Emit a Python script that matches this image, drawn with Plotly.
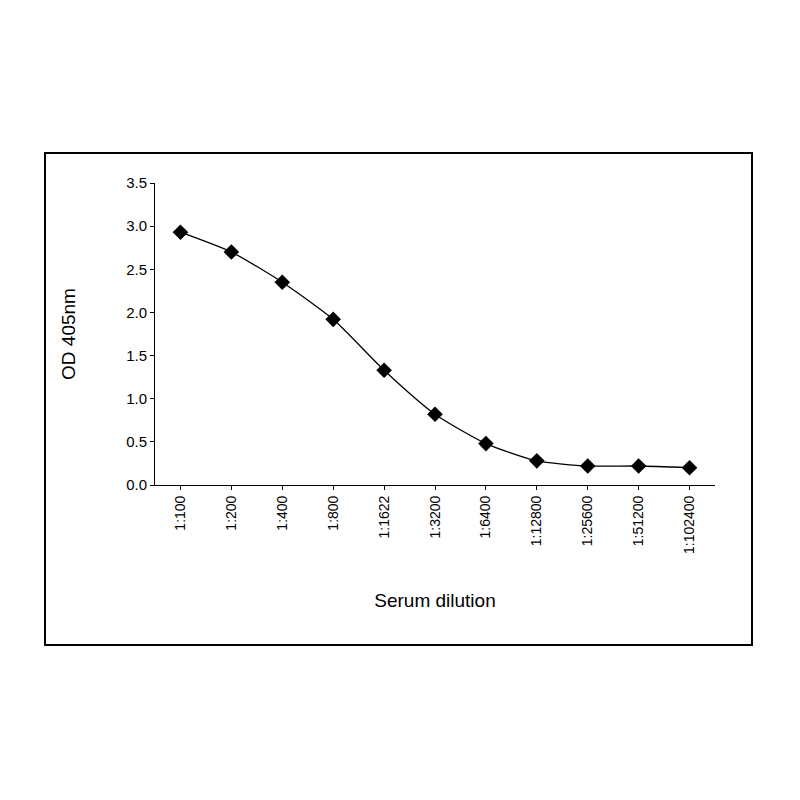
import plotly.graph_objects as go

dilutions = ["1:100","1:200","1:400","1:800","1:1622","1:3200","1:6400","1:12800","1:25600","1:51200","1:102400"]
od405 = [2.93, 2.70, 2.35, 1.92, 1.33, 0.82, 0.48, 0.28, 0.22, 0.22, 0.20]

L, R, T, B = 147, 93, 175, 323
W = 800 - L - R
H = 800 - T - B

fig = go.Figure(go.Scatter(
    x=list(range(len(dilutions))), y=od405, mode="lines+markers",
    line=dict(color="black", width=1.3, shape="spline", smoothing=0.6),
    marker=dict(symbol="diamond", size=12, color="black"),
))
fig.update_layout(
    width=800, height=800, margin=dict(l=L, r=R, t=T, b=B),
    paper_bgcolor="white", plot_bgcolor="white", showlegend=False,
    font=dict(family="Liberation Sans, Arial", size=15, color="black"),
    xaxis=dict(range=[-0.5, 10.5], tickmode="array", tickvals=list(range(len(dilutions))),
               ticktext=dilutions, tickangle=-90, showline=True, linecolor="black",
               ticks="outside", ticklen=4, tickcolor="black", showgrid=False, zeroline=False,
               tickfont=dict(size=14),
               title=dict(text="Serum dilution", font=dict(size=19), standoff=40)),
    yaxis=dict(range=[0, 3.5], dtick=0.5, tickformat=".1f", showline=True, linecolor="black",
               ticks="outside", ticklen=4, tickcolor="black", showgrid=False, zeroline=False,
               tickfont=dict(size=15),
               title=dict(text="OD 405nm", font=dict(size=19), standoff=45)),
    shapes=[dict(type="rect", xref="paper", yref="paper",
                 x0=(37 - L) / W, x1=(744 - L) / W,
                 y0=(800 - 637 - B) / H, y1=(800 - 145 - B) / H,
                 line=dict(color="black", width=2))],
)
fig.write_html("out.html")
